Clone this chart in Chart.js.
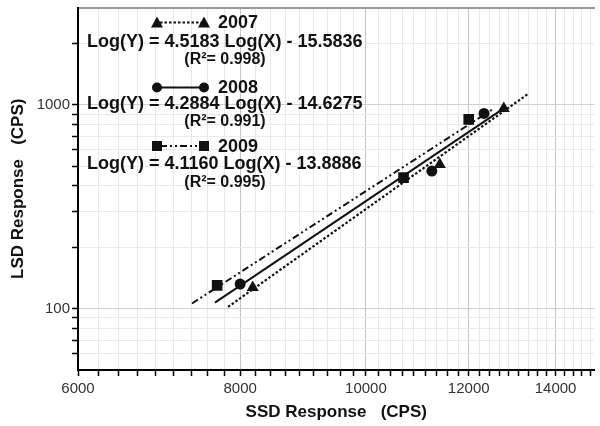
<!DOCTYPE html>
<html>
<head>
<meta charset="utf-8">
<script src="https://cdn.jsdelivr.net/npm/chart.js@4/dist/chart.umd.min.js"></script>
<style>
  html, body { margin:0; padding:0; background:#fff; overflow:hidden; width:600px; height:426px; }
  canvas { display:block; }
</style>
</head>
<body>
<canvas id="c" width="602" height="426"></canvas>
<script>
// ---- data ----
const years = ['2007', '2008', '2009'];
const ssd2007 = [8180, 11400, 12770];
const lsd2007 = [127, 510, 960];
const ssd2008 = [8000, 11240, 12330];
const lsd2008 = [132, 473, 907];
const ssd2009 = [7680, 10690, 12000];
const lsd2009 = [130, 439, 848];
// fitted-line end points
const fitX2007 = [7830, 13350];
const fitY2007 = [102, 1137];
const fitX2008 = [7650, 12770];
const fitY2008 = [107, 960];
const fitX2009 = [7345, 12550];
const fitY2009 = [106, 960];
// legend equation texts
const slopes = ['4.5183', '4.2884', '4.1160'];
const intercepts = ['15.5836', '14.6275', '13.8886'];
const r2Values = ['0.998', '0.991', '0.995'];
// tick labels
const xTickLabels = [6000, 8000, 10000, 12000, 14000];
const yTickLabels = [100, 1000];

const pts = (xs, ys) => xs.map((x, i) => ({x: x, y: ys[i]}));

// minor tick values (axis decoration)
const xTicks = [];
for (let i = 0; i < xTickLabels.length; i++) {
  const a = xTickLabels[i];
  const b = i + 1 < xTickLabels.length ? xTickLabels[i + 1] : 16000;
  for (let k = 0; k < 9; k++) {
    const v = a + k * (b - a) / 9;
    if (v < 15000) xTicks.push(v);
  }
}
const yTicks = [60, 70, 80, 90, 100, 200, 300, 400, 500, 600, 700, 800, 900, 1000, 2000];

const FONT = "'Liberation Sans', Arial, sans-serif";
const INK = '#111';
const DOTS = [2.5, 2];
const DASHDOTDOT = [7, 3, 2, 3, 2, 3];

const fitWidth = (w, h) => (s) => {
  if (w !== null) s.width = w;
  if (h !== null) s.height = h;
  s.paddingTop = 0; s.paddingBottom = 0; s.paddingLeft = 0; s.paddingRight = 0;
};

const legendPlugin = {
  id: 'eqLegend',
  afterDraw(chart) {
    const ctx = chart.ctx;
    const rows = [
      {title: 22.5, eq: 42, r2: 60, style: 'triangle', dash: DOTS, lw: 2.2},
      {title: 87.5, eq: 104, r2: 122, style: 'circle', dash: [], lw: 2},
      {title: 146, eq: 164, r2: 183, style: 'rect', dash: DASHDOTDOT, lw: 2}
    ];
    ctx.save();
    rows.forEach((r, i) => {
      ctx.fillStyle = INK;
      ctx.strokeStyle = INK;
      ctx.lineWidth = r.lw;
      ctx.setLineDash(r.dash);
      ctx.beginPath();
      ctx.moveTo(160, r.title);
      ctx.lineTo(202, r.title);
      ctx.stroke();
      ctx.setLineDash([]);
      [157, 204].forEach(cx => drawMark(ctx, r.style, cx, r.title));
      ctx.textBaseline = 'middle';
      ctx.textAlign = 'left';
      ctx.font = 'bold 18px ' + FONT;
      ctx.fillText(years[i], 218, r.title + 1);
      ctx.fillText('Log(Y) = ' + slopes[i] + ' Log(X) - ' + intercepts[i], 87, r.eq);
      ctx.font = 'bold 16px ' + FONT;
      ctx.textAlign = 'center';
      ctx.fillText('(R\u00B2= ' + r2Values[i] + ')', 225, r.r2);
    });
    ctx.restore();
  }
};

function drawMark(ctx, style, x, y) {
  ctx.beginPath();
  if (style === 'triangle') {
    ctx.moveTo(x, y - 6);
    ctx.lineTo(x + 6, y + 5);
    ctx.lineTo(x - 6, y + 5);
    ctx.closePath();
  } else if (style === 'circle') {
    ctx.arc(x, y, 5, 0, Math.PI * 2);
  } else {
    ctx.rect(x - 5, y - 5, 10, 10);
  }
  ctx.fill();
}

const majorX = v => xTickLabels.includes(v);
const majorY = v => yTickLabels.includes(v);

new Chart(document.getElementById('c'), {
  type: 'scatter',
  data: {
    datasets: [
      {label: '2007 fit', data: pts(fitX2007, fitY2007), showLine: true, pointRadius: 0,
       borderColor: INK, borderWidth: 2.2, borderDash: DOTS},
      {label: '2008 fit', data: pts(fitX2008, fitY2008), showLine: true, pointRadius: 0,
       borderColor: INK, borderWidth: 2},
      {label: '2009 fit', data: pts(fitX2009, fitY2009), showLine: true, pointRadius: 0,
       borderColor: INK, borderWidth: 2, borderDash: DASHDOTDOT},
      {label: '2007', data: pts(ssd2007, lsd2007), pointStyle: 'triangle', pointRadius: 7,
       backgroundColor: INK, borderColor: INK, borderWidth: 0},
      {label: '2008', data: pts(ssd2008, lsd2008), pointStyle: 'circle', pointRadius: 5.5,
       backgroundColor: INK, borderColor: INK, borderWidth: 0},
      {label: '2009', data: pts(ssd2009, lsd2009), pointStyle: 'rect', pointRadius: 7.5,
       backgroundColor: INK, borderColor: INK, borderWidth: 0}
    ]
  },
  options: {
    responsive: false,
    animation: false,
    devicePixelRatio: 1,
    layout: {padding: {top: 7, left: 0, right: 0, bottom: 0}},
    plugins: {legend: {display: false}, tooltip: {enabled: false}},
    scales: {
      x: {
        type: 'logarithmic', position: 'bottom', min: 6000, max: 15000,
        afterBuildTicks: s => { s.ticks = xTicks.map(v => ({value: v})); },
        afterFit: fitWidth(null, 56),
        ticks: {
          autoSkip: false, maxRotation: 0, minRotation: 0, padding: 4, color: '#333',
          font: {family: FONT, size: 15},
          callback: v => majorX(v) ? String(v) : ''
        },
        grid: {
          color: c => (c.tick && majorX(c.tick.value)) ? '#c4c4c4' : '#e8e8e8',
          lineWidth: 1, tickColor: '#000', tickLength: 6, tickWidth: 1.5
        },
        border: {color: '#000', width: 2},
        title: {display: true, text: 'SSD Response   (CPS)', color: INK,
                font: {family: FONT, size: 17, weight: 'bold'}, padding: {top: 0, bottom: 3}}
      },
      xTop: {
        type: 'logarithmic', position: 'top', min: 6000, max: 15000,
        afterFit: fitWidth(null, 0),
        ticks: {display: false},
        grid: {display: false, drawTicks: false},
        border: {color: '#9a9a9a', width: 2}
      },
      y: {
        type: 'logarithmic', position: 'left', min: 50, max: 3000,
        afterBuildTicks: s => { s.ticks = yTicks.map(v => ({value: v})); },
        afterFit: fitWidth(78, null),
        ticks: {
          autoSkip: false, padding: 2, color: '#333',
          font: {family: FONT, size: 15},
          callback: v => majorY(v) ? String(v) : ''
        },
        grid: {
          color: c => (c.tick && majorY(c.tick.value)) ? '#cfcfcf' : '#eaeaea',
          lineWidth: 1, tickColor: '#000', tickLength: 6, tickWidth: 1.5
        },
        border: {color: '#000', width: 2},
        title: {display: true, text: 'LSD Response   (CPS)', color: INK,
                font: {family: FONT, size: 17, weight: 'bold'}, padding: {top: 8, bottom: 0}}
      }
    }
  },
  plugins: [legendPlugin]
});
</script>
</body>
</html>
